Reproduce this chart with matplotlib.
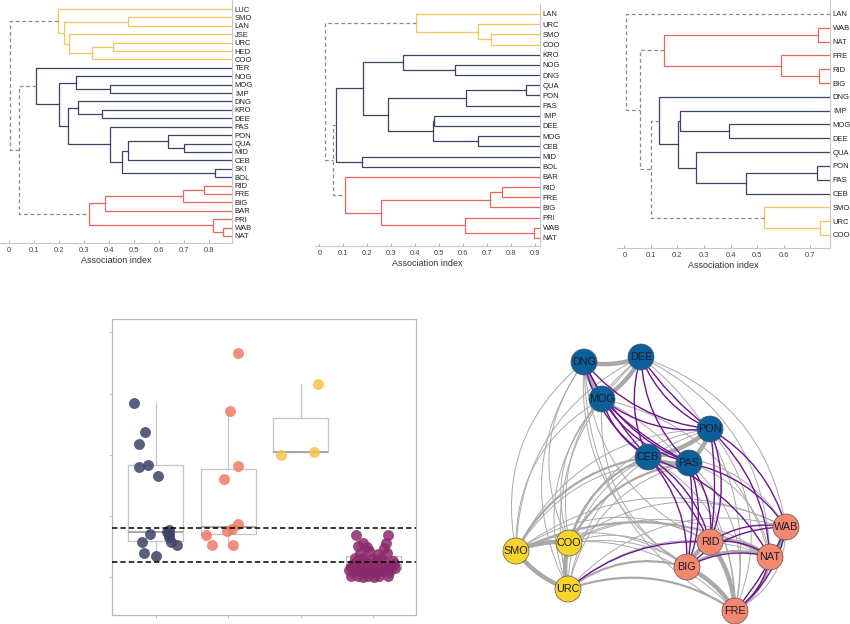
import numpy as np
import matplotlib.pyplot as plt
from matplotlib.patches import Circle, FancyArrowPatch

plt.rcParams['font.family'] = ['Liberation Sans', 'DejaVu Sans']

W, H = 850, 624

# ---------------- dendrogram data ----------------
# merges: (left, right, association index, group); int = earlier merge
leaves_a = ['LUC', 'SMO', 'LAN', 'JSE', 'URC', 'HED', 'COO', 'TER', 'NOG', 'MOG',
            'IMP', 'DNG', 'KRO', 'DEE', 'PAS', 'PON', 'QUA', 'MID', 'CEB', 'SKI',
            'BOL', 'RID', 'FRE', 'BIG', 'BAR', 'PRI', 'WAB', 'NAT']
merges_a = [('SMO', 'LAN', 0.477, 'y'), ('URC', 'HED', 0.415, 'y'), (1, 'COO', 0.33, 'y'),
            ('JSE', 2, 0.24, 'y'), (0, 3, 0.22, 'y'), ('LUC', 4, 0.197, 'y'),
            ('MOG', 'IMP', 0.404, 'd'), ('NOG', 6, 0.27, 'd'), ('KRO', 'DEE', 0.372, 'd'),
            ('DNG', 8, 0.275, 'd'), ('QUA', 'MID', 0.70, 'd'), ('PON', 10, 0.635, 'd'),
            (11, 'CEB', 0.475, 'd'), ('SKI', 'BOL', 0.824, 'd'), (12, 13, 0.453, 'd'),
            ('PAS', 14, 0.404, 'd'), (9, 15, 0.235, 'd'), (7, 16, 0.201, 'd'),
            ('TER', 17, 0.107, 'd'), ('RID', 'FRE', 0.78, 'r'), (19, 'BIG', 0.695, 'r'),
            (20, 'BAR', 0.384, 'r'), ('WAB', 'NAT', 0.855, 'r'), ('PRI', 22, 0.815, 'r'),
            (21, 23, 0.32, 'r'), (18, 24, 0.041, 'g'), (5, 25, 0.004, 'g')]

leaves_b = ['LAN', 'URC', 'SMO', 'COO', 'KRO', 'NOG', 'DNG', 'QUA', 'PON', 'PAS', 'IMP',
            'DEE', 'MOG', 'CEB', 'MID', 'BOL', 'BAR', 'RID', 'FRE', 'BIG', 'PRI', 'WAB', 'NAT']
merges_b = [('SMO', 'COO', 0.715, 'y'), ('URC', 0, 0.66, 'y'), ('LAN', 1, 0.405, 'y'),
            ('NOG', 'DNG', 0.566, 'd'), ('KRO', 3, 0.35, 'd'), ('QUA', 'PON', 0.861, 'd'),
            (5, 'PAS', 0.613, 'd'), ('IMP', 'DEE', 0.48, 'd'), ('MOG', 'CEB', 0.66, 'd'),
            (7, 8, 0.474, 'd'), (6, 9, 0.288, 'd'), (4, 10, 0.181, 'd'),
            ('MID', 'BOL', 0.178, 'd'), (11, 12, 0.07, 'd'), ('RID', 'FRE', 0.762, 'r'),
            (14, 'BIG', 0.711, 'r'), ('WAB', 'NAT', 0.893, 'r'), ('PRI', 16, 0.606, 'r'),
            (15, 17, 0.256, 'r'), ('BAR', 18, 0.108, 'r'), (13, 19, 0.058, 'g'),
            (2, 20, 0.024, 'g')]

leaves_c = ['LAN', 'WAB', 'NAT', 'FRE', 'RID', 'BIG', 'DNG', 'IMP', 'MOG', 'DEE', 'QUA',
            'PON', 'PAS', 'CEB', 'SMO', 'URC', 'COO']
merges_c = [('WAB', 'NAT', 0.729, 'r'), ('RID', 'BIG', 0.734, 'r'), ('FRE', 1, 0.591, 'r'),
            (0, 2, 0.148, 'r'), ('MOG', 'DEE', 0.395, 'd'), ('IMP', 4, 0.211, 'd'),
            ('PON', 'PAS', 0.725, 'd'), (6, 'CEB', 0.459, 'd'), ('QUA', 7, 0.27, 'd'),
            (5, 8, 0.201, 'd'), ('DNG', 9, 0.129, 'd'), ('URC', 'COO', 0.738, 'y'),
            ('SMO', 11, 0.528, 'y'), (10, 12, 0.1, 'g'), (3, 13, 0.058, 'g'),
            ('LAN', 14, 0.006, 'g')]

tree_colors = {'y': '#f5c45a', 'd': '#3b4563', 'r': '#e8665d', 'g': '#8a8a8a'}

# ---------------- box plot data ----------------
dark_off = [-0.30, -0.15, -0.23, -0.23, -0.10, 0.03, 0.19, -0.08, 0.18, 0.19, -0.19,
            0.21, 0.29, -0.16, 0.0, 0.16]
dark_val = [2.845, 2.365, 2.18, 1.80, 1.84, 1.66, 0.77, 0.70, 0.70, 0.65, 0.58, 0.58,
            0.53, 0.39, 0.34, 0.73]
salmon_off = [0.13, 0.03, 0.13, -0.06, 0.14, 0.05, -0.01, -0.30, -0.22, 0.07]
salmon_val = [3.66, 2.71, 1.82, 1.60, 0.87, 0.78, 0.76, 0.68, 0.52, 0.53]
yellow_off = [0.24, -0.27, 0.18]
yellow_val = [3.16, 2.0, 2.04]
purple_off = [-0.24, 0.21, -0.14, 0.18, -0.21, -0.09, 0.15, -0.18, -0.06, 0.19, 0.06,
              -0.25, -0.14, -0.02, 0.11, 0.27, -0.31, -0.23, -0.14, -0.07, 0.01, 0.09,
              0.17, 0.25, -0.28, -0.18, -0.10, -0.02, 0.06, 0.14, 0.22, -0.30, -0.21,
              -0.14, -0.07, 0.01, 0.08, 0.21, -0.33, 0.30, -0.23, 0.04, -0.10, 0.16,
              0.28, -0.04, -0.28, 0.11]
purple_val = [0.68, 0.68, 0.56, 0.56, 0.51, 0.50, 0.47, 0.39, 0.42, 0.39, 0.37, 0.31,
              0.31, 0.29, 0.31, 0.26, 0.17, 0.20, 0.17, 0.22, 0.17, 0.20, 0.17, 0.17,
              0.09, 0.11, 0.08, 0.10, 0.08, 0.10, 0.08, 0.01, 0.02, 0.0, 0.02, 0.0, 0.02,
              0.01, 0.12, 0.15, 0.27, 0.26, 0.24, 0.24, 0.22, 0.14, 0.22, 0.13]

box_q1 = [0.583, 0.703, 2.038, 0.131]
box_med = [0.73, 0.823, 2.04, 0.20]
box_q3 = [1.826, 1.766, 2.60, 0.338]
box_lo = [0.34, 0.50, 2.038, 0.0]
box_hi = [2.845, 2.708, 3.155, 0.50]
ref_lines = [0.80, 0.24]

# ---------------- network data ----------------
node_names = ['DNG', 'DEE', 'MOG', 'PON', 'CEB', 'PAS', 'WAB', 'RID', 'NAT', 'BIG',
              'FRE', 'SMO', 'COO', 'URC']
node_x = [104, 161, 122, 230, 168, 209, 306, 230, 290, 207, 255, 36, 89, 88]
node_y = [32, 27, 69, 99, 127, 133, 197, 212, 227, 237, 281, 221, 213, 259]
node_group = ['b', 'b', 'b', 'b', 'b', 'b', 's', 's', 's', 's', 's', 'y', 'y', 'y']

strong_edges = [('DNG', 'DEE'), ('DNG', 'MOG'), ('DEE', 'MOG'), ('CEB', 'PAS'),
                ('PAS', 'PON'), ('SMO', 'COO'), ('SMO', 'URC'), ('COO', 'URC'),
                ('RID', 'BIG'), ('BIG', 'FRE'), ('RID', 'FRE'), ('WAB', 'NAT'),
                ('CEB', 'PON')]
medium_edges = [('COO', 'CEB'), ('SMO', 'CEB'), ('COO', 'PAS'), ('URC', 'FRE'),
                ('BIG', 'NAT'), ('RID', 'NAT'), ('SMO', 'NAT'), ('NAT', 'FRE'),
                ('URC', 'BIG')]
weak_edges = [('SMO', 'DNG'), ('SMO', 'MOG'), ('SMO', 'DEE'), ('SMO', 'PON'),
              ('SMO', 'PAS'), ('SMO', 'RID'), ('SMO', 'BIG'), ('SMO', 'FRE'),
              ('SMO', 'WAB'), ('COO', 'DNG'), ('COO', 'MOG'), ('COO', 'DEE'),
              ('COO', 'PON'), ('COO', 'RID'), ('COO', 'BIG'), ('COO', 'NAT'),
              ('COO', 'WAB'), ('COO', 'FRE'), ('URC', 'DNG'), ('URC', 'MOG'),
              ('URC', 'DEE'), ('URC', 'CEB'), ('URC', 'PAS'), ('URC', 'PON'),
              ('URC', 'NAT'), ('URC', 'WAB'), ('DEE', 'NAT'), ('DEE', 'WAB'),
              ('DEE', 'FRE'), ('DNG', 'FRE'), ('DNG', 'BIG'), ('MOG', 'FRE'),
              ('MOG', 'NAT'), ('PON', 'FRE'), ('CEB', 'FRE'), ('CEB', 'WAB'),
              ('PAS', 'FRE'), ('PAS', 'NAT'), ('DNG', 'RID'), ('MOG', 'BIG'),
              ('WAB', 'FRE')]
purple_edges = [('DNG', 'CEB'), ('DNG', 'PAS'), ('DNG', 'PON'), ('DEE', 'CEB'),
                ('DEE', 'PAS'), ('DEE', 'PON'), ('MOG', 'CEB'), ('MOG', 'PAS'),
                ('MOG', 'PON'), ('CEB', 'RID'), ('CEB', 'BIG'), ('CEB', 'NAT'),
                ('PAS', 'RID'), ('PAS', 'BIG'), ('PAS', 'WAB'), ('PON', 'RID'),
                ('PON', 'NAT'), ('PON', 'WAB'), ('RID', 'WAB'), ('RID', 'NAT'),
                ('BIG', 'WAB'), ('BIG', 'NAT'), ('FRE', 'WAB'), ('FRE', 'NAT'),
                ('URC', 'RID')]
# pairs that show a second, parallel purple curve
purple_double = [('DNG', 'CEB'), ('DEE', 'PON'), ('MOG', 'PAS'), ('CEB', 'RID'),
                 ('PAS', 'BIG'), ('PON', 'RID'), ('FRE', 'WAB')]


def px_axes(fig, x0, y0, x1, y1):
    return fig.add_axes([x0 / W, 1 - y1 / H, (x1 - x0) / W, (y1 - y0) / H])


def draw_dendro(ax, leaves, merges, xlim, ticks, box, leaf_px):
    n = len(leaves)
    pos = {name: (xlim[1], i) for i, name in enumerate(leaves)}
    nodes = []
    for a, b, h, grp in merges:
        pa = pos[a] if isinstance(a, str) else nodes[a]
        pb = pos[b] if isinstance(b, str) else nodes[b]
        style = dict(color=tree_colors[grp], lw=0.9, solid_joinstyle='miter')
        if grp == 'g':
            style['ls'] = (0, (3, 2.2))
        ax.plot([pa[0], h, h, pb[0]], [pa[1], pa[1], pb[1], pb[1]], **style)
        nodes.append((h, (pa[1] + pb[1]) / 2))
    s = (leaf_px[1] - leaf_px[0]) / (n - 1)
    ax.set_ylim((n - 1) + (box[3] - leaf_px[1]) / s, -(leaf_px[0] - box[1]) / s)
    ax.set_xlim(*xlim)
    ax.yaxis.tick_right()
    ax.set_yticks(range(n))
    ax.set_yticklabels(leaves, fontsize=5.5, color='#222222')
    ax.tick_params(axis='y', length=0, pad=2)
    ax.set_xticks(ticks)
    ax.set_xticklabels(['0' if t == 0 else f'{t:g}' for t in ticks], fontsize=5.5,
                       color='#444444')
    ax.tick_params(axis='x', direction='in', length=2, width=0.5, color='#999999', pad=3)
    ax.set_xlabel('Association index', fontsize=6.5, color='#333333', labelpad=1)
    for side in ['left', 'top']:
        ax.spines[side].set_visible(False)
    for side in ['right', 'bottom']:
        ax.spines[side].set_color('#c8c8c8')
        ax.spines[side].set_linewidth(0.8)


fig = plt.figure(figsize=(W / 100, H / 100), dpi=100)

ax1 = px_axes(fig, 0, 0, 232, 243)
draw_dendro(ax1, leaves_a, merges_a, (-0.035, 0.89), np.round(np.arange(0, 0.81, 0.1), 1),
            (0, 0, 232, 243), (9, 236))
ax2 = px_axes(fig, 315, 4, 540, 246)
draw_dendro(ax2, leaves_b, merges_b, (-0.018, 0.92), np.round(np.arange(0, 0.91, 0.1), 1),
            (315, 4, 540, 246), (14, 238))
ax3 = px_axes(fig, 617, 0, 830, 248)
draw_dendro(ax3, leaves_c, merges_c, (-0.028, 0.775), np.round(np.arange(0, 0.71, 0.1), 1),
            (617, 0, 830, 248), (14, 235))

# ---------------- box plot panel ----------------
axb = px_axes(fig, 112, 319, 416, 615)
stats = []
for i in range(4):
    stats.append(dict(q1=box_q1[i], med=box_med[i], q3=box_q3[i],
                      whislo=box_lo[i], whishi=box_hi[i], fliers=[]))
axb.bxp(stats, positions=[1, 2, 3, 4], widths=0.757, showcaps=False,
        boxprops=dict(color='#c4c4c4', lw=0.9),
        whiskerprops=dict(color='#c4c4c4', lw=0.9),
        medianprops=dict(color='#a0a0a0', lw=1.3), zorder=1)
point_sets = [(1, dark_off, dark_val, '#3b4466'), (2, salmon_off, salmon_val, '#ef7a68'),
              (3, yellow_off, yellow_val, '#f8c24c'), (4, purple_off, purple_val, '#8b2a6b')]
for xc, off, val, col in point_sets:
    axb.scatter(xc + np.array(off), val, s=62, color=col, alpha=0.85, lw=0, zorder=3)
for yv in ref_lines:
    axb.axhline(yv, color='black', ls=(0, (3.5, 2)), lw=1.1, zorder=4)
axb.set_xlim(0.4, 4.59)
axb.set_ylim(-0.62, 4.22)
axb.set_xticks([1, 2, 3, 4])
axb.set_xticklabels([])
axb.set_yticks([0, 1, 2, 3, 4])
axb.set_yticklabels([])
axb.tick_params(length=2, width=0.5, color='#aaaaaa')
for sp in axb.spines.values():
    sp.set_color('#b8b8b8')
    sp.set_linewidth(0.9)

# ---------------- network panel ----------------
axn = px_axes(fig, 480, 330, 850, 624)
axn.set_xlim(0, 370)
axn.set_ylim(294, 0)
axn.axis('off')
xy = {n: (x, y) for n, x, y in zip(node_names, node_x, node_y)}
cx, cy = np.mean(node_x), np.mean(node_y)


def arc(a, b, color, lw, rad, z):
    (x1, y1), (x2, y2) = xy[a], xy[b]
    # bow outwards from the layout centre
    mx, my = (x1 + x2) / 2, (y1 + y2) / 2
    dx, dy = x2 - x1, y2 - y1
    ox, oy = -dy, -dx
    sign = 1 if (ox * (mx - cx) + oy * (my - cy)) >= 0 else -1
    p = FancyArrowPatch((x1, y1), (x2, y2), arrowstyle='-', shrinkA=0, shrinkB=0,
                        connectionstyle=f'arc3,rad={sign * rad}', color=color, lw=lw,
                        zorder=z)
    axn.add_patch(p)


for a, b in weak_edges:
    arc(a, b, '#a9a9a9', 0.7, 0.3, 1)
for a, b in medium_edges:
    arc(a, b, '#a9a9a9', 1.6, 0.25, 1)
for a, b in strong_edges:
    arc(a, b, '#a9a9a9', 3.2, 0.15, 1)
for a, b in purple_edges:
    arc(a, b, '#6c1390', 1.0, 0.2, 2)
for a, b in purple_double:
    arc(a, b, '#6c1390', 1.0, 0.08, 2)

node_colors = {'b': '#0b5f9b', 's': '#f6876f', 'y': '#f6d42c'}
for n, x, y, g in zip(node_names, node_x, node_y, node_group):
    axn.add_patch(Circle((x, y), 13, facecolor=node_colors[g], edgecolor='#555555',
                         lw=0.5, zorder=5))
    axn.text(x, y, n, ha='center', va='center', fontsize=7.8, color='#1c1c2c', zorder=6)

fig.savefig('out.png', dpi=100)
